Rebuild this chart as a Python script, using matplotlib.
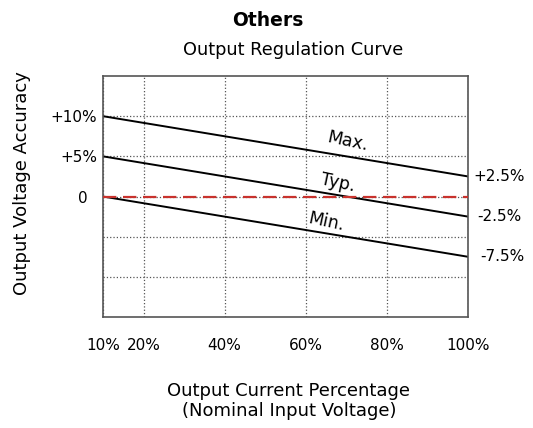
import matplotlib.pyplot as plt

# Output load (%) and output voltage deviation (%)
load_pct = [10, 100]
max_curve = [10, 2.5]
typ_curve = [5, -2.5]
min_curve = [0, -7.5]
nominal = [0, 0]

x_ticks = [10, 20, 40, 60, 80, 100]
x_tick_labels = ["10%", "20%", "40%", "60%", "80%", "100%"]
y_ticks = [10, 5, 0, -5, -10]
y_tick_labels = ["+10%", "+5%", "0  ", "", ""]
end_labels = ["+2.5%", "-2.5%", "-7.5%"]
curve_names = ["Max.", "Typ.", "Min."]

fig = plt.figure(figsize=(5.33, 4.28), dpi=100)
ax = fig.add_axes([0.1932, 0.2593, 0.6848, 0.5631])

ax.plot(load_pct, max_curve, color="black", lw=1.4)
ax.plot(load_pct, typ_curve, color="black", lw=1.4)
ax.plot(load_pct, min_curve, color="black", lw=1.4)
ax.plot(load_pct, nominal, color="#c8322d", lw=1.6, ls=(0, (6, 3)), zorder=3)

ax.set_xlim(10, 100)
ax.set_ylim(-15, 15)
ax.set_xticks(x_ticks)
ax.set_xticklabels(x_tick_labels, fontsize=11)
ax.set_yticks(y_ticks)
ax.set_yticklabels(y_tick_labels, fontsize=11)
ax.tick_params(axis="x", length=0, pad=15)
ax.tick_params(axis="y", length=0, pad=4)

ax.grid(True, linestyle=":", color="#555555", lw=0.9)
for s in ax.spines.values():
    s.set_color("#555555")
    s.set_linewidth(1.2)

# labels at the right end of each curve
for val, lab, dx in zip([max_curve[1], typ_curve[1], min_curve[1]], end_labels, [4, 7, 9]):
    ax.annotate(lab, xy=(100, val), xytext=(dx, 0), textcoords="offset points",
                ha="left", va="center", fontsize=11, annotation_clip=False)

# curve names
for (xx, yy), name in zip([(70.2, 6.8), (68, 1.7), (65, -3.1)], curve_names):
    ax.text(xx, yy, name, rotation=-12, ha="center", va="center", fontsize=12.5)

fig.text(0.503, 0.953, "Others", ha="center", va="center", fontsize=13.5, fontweight="bold")
fig.text(0.55, 0.883, "Output Regulation Curve", ha="center", va="center", fontsize=12.8)
fig.text(0.542, 0.087, "Output Current Percentage", ha="center", va="center", fontsize=13)
fig.text(0.542, 0.040, "(Nominal Input Voltage)", ha="center", va="center", fontsize=13)
fig.text(0.041, 0.572, "Output Voltage Accuracy", rotation=90, ha="center", va="center", fontsize=13)

fig.savefig("out.png", dpi=100)
